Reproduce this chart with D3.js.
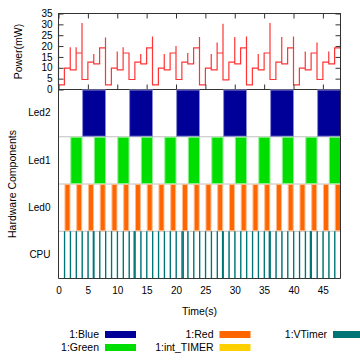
<!DOCTYPE html>
<html>
<head>
<meta charset="utf-8">
<script src="https://cdn.jsdelivr.net/npm/d3@7"></script>
<style>
  html, body { margin: 0; padding: 0; background: #fff; }
  svg { display: block; font-family: "Liberation Sans", Arial, sans-serif; }
</style>
</head>
<body>
<svg id="chart" width="360" height="360"></svg>
<script>
// power level (mW) for each 1 s slot
const powerLevel = [
  2.1, 9.8, 9.0, 16.8, 4.6, 12.6, 11.8, 19.2,
  2.1, 9.8, 9.0, 16.8, 4.6, 12.6, 11.8, 19.2,
  2.1, 9.8, 9.0, 16.8, 4.6, 12.6, 11.8, 19.2,
  2.1, 9.8, 9.0, 16.8, 4.4, 12.6, 11.8, 19.2,
  2.1, 9.8, 9.0, 16.8, 4.6, 12.6, 11.8, 19.2,
  2.1, 9.8, 9.0, 16.8, 4.6, 12.6, 11.8, 19.2
];
// short spikes at each whole second (null = none)
const powerPeak = [
  30.0, null, 19.4, 19.4, 30.6, null, 16.3, null,
  24.0, null, 17.5, 19.4, null, null, 16.3, null,
  24.4, null, 16.3, null, 20.0, null, 16.8, null,
  24.2, null, 16.3, 21.7, 30.3, null, 24.2, null,
  24.4, null, 16.3, null, 30.6, null, 24.2, null,
  24.4, null, 17.5, null, 21.7, null, 17.5, null,
  24.0
];
const timeTicks = [0, 5, 10, 15, 20, 25, 30, 35, 40, 45];
const powerTicks = [0, 5, 10, 15, 20, 25, 30, 35];
const rows = ['Led2', 'Led1', 'Led0', 'CPU'];

// on intervals [start, end] in seconds
const blueOn = [[4.1, 8], [12.1, 16], [20.1, 24], [28.1, 32], [36.1, 40], [44.1, 48]];
const greenOn = [
  [2.1, 4], [6.1, 8], [10.1, 12], [14.1, 16], [18.1, 20], [22.1, 24],
  [26.1, 28], [30.1, 32], [34.1, 36], [38.1, 40], [42.1, 44], [46.1, 48]
];
const redOn = [
  [1.1, 1.95], [3.1, 3.95], [5.1, 5.95], [7.1, 7.95], [9.1, 9.95], [11.1, 11.95],
  [13.1, 13.95], [15.1, 15.95], [17.1, 17.95], [19.1, 19.95], [21.1, 21.95], [23.1, 23.95],
  [25.1, 25.95], [27.1, 27.95], [29.1, 29.95], [31.1, 31.95], [33.1, 33.95], [35.1, 35.95],
  [37.1, 37.95], [39.1, 39.95], [41.1, 41.95], [43.1, 43.95], [45.1, 45.95], [47.1, 48]
];
const vtimerOn = [
  [1, 1.06], [2, 2.06], [3, 3.06], [4, 4.06], [5, 5.06], [5.9, 5.96], [6, 6.06], [7, 7.06],
  [8, 8.06], [9, 9.06], [10, 10.06], [11, 11.06], [12, 12.06], [12.85, 12.91], [13, 13.06],
  [14, 14.06], [15, 15.06], [16, 16.06], [17, 17.06], [18, 18.06], [19, 19.06], [20, 20.06],
  [21, 21.06], [21.2, 21.26], [22, 22.06], [23, 23.06], [24, 24.06], [25, 25.06], [26, 26.06],
  [27, 27.06], [27.9, 27.96], [28, 28.06], [29, 29.06], [30, 30.06], [31, 31.06], [32, 32.06],
  [33, 33.06], [34, 34.06], [35, 35.06], [35.85, 35.91], [36, 36.06], [37, 37.06], [38, 38.06],
  [39, 39.06], [40, 40.06], [41, 41.06], [42, 42.06], [42.85, 42.91], [43, 43.06], [44, 44.06],
  [45, 45.06], [46, 46.06], [47, 47.06]
];

const legendLabels = ['1:Blue', '1:Green', '1:Red', '1:int_TIMER', '1:VTimer'];
const legendColors = ['#000099', '#00dd00', '#ff6600', '#ffd000', '#007575'];

const svg = d3.select('#chart');
const FONT = 10.5;
const frameColor = '#333';

const x = d3.scaleLinear([0, 48], [58.5, 340.5]);
const yP = d3.scaleLinear([0, 35], [89.5, 13.5]);
const yRow = d3.scaleBand(rows, [89.5, 278.5]);

/**
 * power plot
 */
const pts = [{ t: 0, v: powerPeak[0] }, { t: 0, v: powerLevel[0] }];
for (let t = 1; t < powerLevel.length; t++) {
  pts.push({ t, v: powerLevel[t - 1] });
  if (powerPeak[t] != null) pts.push({ t, v: powerPeak[t] });
  pts.push({ t, v: powerLevel[t] });
}
pts.push({ t: 48, v: powerLevel[powerLevel.length - 1] });
if (powerPeak[48] != null) pts.push({ t: 48, v: powerPeak[48] });

svg.append('path')
  .datum(pts)
  .attr('fill', 'none')
  .attr('stroke', '#ff3535')
  .attr('stroke-width', 1.2)
  .attr('d', d3.line().x(d => x(d.t)).y(d => yP(d.v)));

const power = svg.append('g').attr('font-size', FONT);
power.append('g')
  .attr('transform', `translate(${x.range()[0]},0)`)
  .call(d3.axisLeft(yP).tickValues(powerTicks).tickSize(-5).tickPadding(6))
  .call(g => g.select('.domain').remove());
power.append('g')
  .attr('transform', `translate(${x.range()[1]},0)`)
  .call(d3.axisRight(yP).tickValues(powerTicks).tickSize(-5).tickFormat(''))
  .call(g => g.select('.domain').remove());
power.append('g')
  .attr('transform', `translate(0,${yP.range()[1]})`)
  .call(d3.axisTop(x).tickValues(timeTicks).tickSize(-5).tickFormat(''))
  .call(g => g.select('.domain').remove());
power.append('g')
  .attr('transform', `translate(0,${yP.range()[0]})`)
  .call(d3.axisBottom(x).tickValues(timeTicks).tickSize(-5).tickFormat(''))
  .call(g => g.select('.domain').remove());
power.selectAll('.tick line').attr('stroke', frameColor);
power.selectAll('text').attr('font-family', null).attr('fill', '#000');

power.append('rect')
  .attr('x', x.range()[0]).attr('y', yP.range()[1])
  .attr('width', x.range()[1] - x.range()[0])
  .attr('height', yP.range()[0] - yP.range()[1])
  .attr('fill', 'none').attr('stroke', frameColor);

svg.append('text')
  .attr('transform', `translate(22,${(yP.range()[0] + yP.range()[1]) / 2}) rotate(-90)`)
  .attr('text-anchor', 'middle')
  .attr('font-size', FONT)
  .text('Power(mW)');

/**
 * gantt rows
 */
const gantt = svg.append('g');
gantt.selectAll('.sep')
  .data(rows.slice(1))
  .join('line')
  .attr('class', 'sep')
  .attr('x1', x.range()[0]).attr('x2', x.range()[1])
  .attr('y1', d => yRow(d)).attr('y2', d => yRow(d))
  .attr('stroke', '#c0c0c0');

const series = [
  { row: 'Led2', color: legendColors[0], spans: blueOn },
  { row: 'Led1', color: legendColors[1], spans: greenOn },
  { row: 'Led0', color: legendColors[2], spans: redOn },
  { row: 'CPU', color: legendColors[4], spans: vtimerOn }
];
series.forEach(s => {
  gantt.append('g')
    .selectAll('rect')
    .data(s.spans)
    .join('rect')
    .attr('x', d => x(d[0]))
    .attr('width', d => x(d[1]) - x(d[0]))
    .attr('y', yRow(s.row) + 0.5)
    .attr('height', yRow.bandwidth() - 1)
    .attr('fill', s.color)
    .attr('stroke', s.row === 'CPU' ? s.color : d3.interpolateRgb(s.color, '#fff')(0.55))
    .attr('stroke-width', 1);
});

gantt.append('g')
  .attr('font-size', FONT)
  .attr('transform', `translate(${x.range()[0]},0)`)
  .call(d3.axisLeft(yRow).tickSize(0).tickPadding(8))
  .call(g => g.select('.domain').remove());
gantt.append('g')
  .attr('font-size', FONT)
  .attr('transform', `translate(0,${yRow.range()[1]})`)
  .call(d3.axisBottom(x).tickValues(timeTicks).tickSize(0).tickPadding(8))
  .call(g => g.select('.domain').remove());
gantt.selectAll('text').attr('font-family', null).attr('fill', '#000');

gantt.append('path')
  .attr('d', `M${x.range()[0]},${yRow.range()[0]}V${yRow.range()[1]}H${x.range()[1]}V${yRow.range()[0]}`)
  .attr('fill', 'none')
  .attr('stroke', frameColor);

svg.append('text')
  .attr('transform', `translate(16,${(yRow.range()[0] + yRow.range()[1]) / 2}) rotate(-90)`)
  .attr('text-anchor', 'middle')
  .attr('font-size', FONT)
  .text('Hardware Components');

svg.append('text')
  .attr('x', (x.range()[0] + x.range()[1]) / 2)
  .attr('y', 315)
  .attr('text-anchor', 'middle')
  .attr('font-size', FONT)
  .text('Time(s)');

/**
 * legend, column by column
 */
const legendCols = [99, 213.5, 327];
const legendRows = [334.5, 347.5];
const legend = svg.append('g').attr('font-size', FONT);
legendLabels.forEach((label, i) => {
  const cx = legendCols[Math.floor(i / 2)];
  const cy = legendRows[i % 2];
  legend.append('text')
    .attr('x', cx).attr('y', cy)
    .attr('dy', '0.35em')
    .attr('text-anchor', 'end')
    .text(label);
  legend.append('rect')
    .attr('x', cx + 6).attr('y', cy - 3.5)
    .attr('width', 31).attr('height', 7)
    .attr('fill', legendColors[i]);
});
</script>
</body>
</html>
